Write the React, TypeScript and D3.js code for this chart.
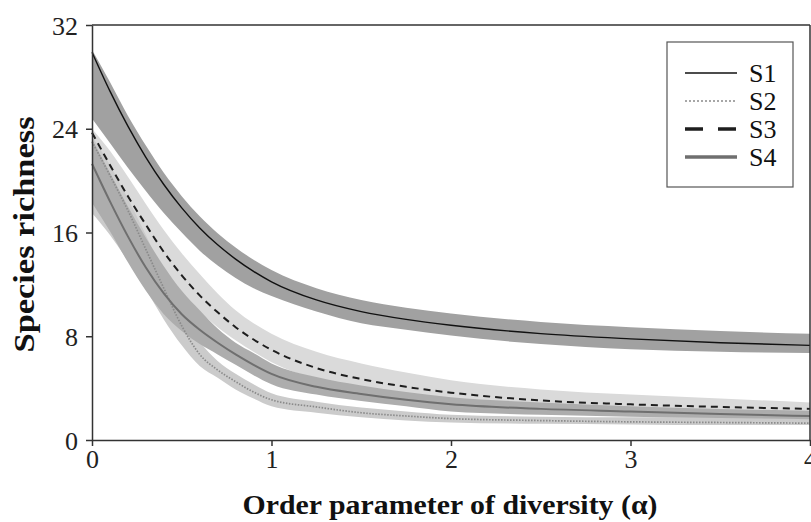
import { useRef, useEffect } from "react";
import * as d3 from "d3";

// order parameter values (x)
const alpha = [0, 0.1, 0.2, 0.3, 0.4, 0.5, 0.6, 0.7, 0.8, 0.9, 1, 1.25, 1.5, 1.75, 2, 2.5, 3, 3.5, 4];

const s1Mean = [29.9, 26.9, 24.2, 21.8, 19.7, 17.9, 16.35, 15.05, 13.95, 13.0, 12.2, 10.8, 9.9, 9.3, 8.85, 8.2, 7.8, 7.5, 7.3];
const s1Hi = [30.1, 27.6, 25.0, 22.7, 20.6, 18.8, 17.25, 15.95, 14.85, 13.9, 13.1, 11.7, 10.8, 10.2, 9.75, 9.1, 8.7, 8.4, 8.2];
const s1Lo = [24.8, 22.9, 21.0, 19.2, 17.5, 16.0, 14.6, 13.45, 12.5, 11.7, 11.1, 9.9, 9.0, 8.5, 8.05, 7.4, 7.0, 6.8, 6.7];

const s2Mean = [23.0, 20.4, 17.7, 14.7, 11.7, 8.8, 6.6, 5.4, 4.5, 3.7, 3.1, 2.55, 2.1, 1.85, 1.65, 1.5, 1.4, 1.35, 1.3];
const s2Hi = [23.4, 21.2, 18.6, 15.8, 12.8, 9.9, 7.6, 6.1, 5.1, 4.3, 3.6, 2.95, 2.5, 2.2, 1.95, 1.8, 1.75, 1.75, 1.75];
const s2Lo = [17.5, 15.8, 13.8, 11.6, 9.3, 7.3, 5.7, 4.8, 3.9, 3.2, 2.6, 2.1, 1.75, 1.5, 1.35, 1.25, 1.2, 1.15, 1.15];

const s3Mean = [23.7, 21.2, 18.8, 16.6, 14.5, 12.7, 11.15, 9.85, 8.7, 7.75, 6.95, 5.55, 4.7, 4.1, 3.65, 3.05, 2.75, 2.55, 2.4];
const s3Hi = [24.0, 22.3, 20.3, 18.2, 16.2, 14.4, 12.8, 11.3, 10.0, 9.0, 8.2, 6.8, 5.9, 5.2, 4.6, 3.9, 3.5, 3.2, 2.9];
const s3Lo = [20.5, 18.7, 16.8, 14.8, 12.9, 11.2, 9.9, 8.7, 7.7, 6.8, 6.0, 4.7, 4.0, 3.4, 3.0, 2.6, 2.35, 2.2, 2.1];

const s4Mean = [21.3, 18.4, 15.7, 13.3, 11.3, 9.7, 8.5, 7.5, 6.6, 5.8, 5.1, 4.1, 3.55, 3.1, 2.75, 2.4, 2.2, 2.0, 1.85];
const s4Hi = [23.2, 20.6, 18.0, 15.6, 13.4, 11.5, 10.0, 8.6, 7.5, 6.7, 5.9, 4.85, 4.2, 3.7, 3.3, 2.9, 2.6, 2.4, 2.25];
const s4Lo = [18.3, 16.1, 13.7, 11.5, 9.7, 8.4, 7.4, 6.6, 5.8, 5.0, 4.3, 3.5, 3.0, 2.6, 2.2, 1.95, 1.8, 1.7, 1.6];

const yTicks = [0, 8, 16, 24, 32];
const xTicks = [0, 1, 2, 3, 4];
const seriesNames = ["S1", "S2", "S3", "S4"];

const FONT = "'Liberation Serif', 'Times New Roman', serif";

// line style per series
const lineStyle: Record<string, { stroke: string; width: number; dash: string | null; legendWidth: number; legendDash: string | null }> = {
  S1: { stroke: "#111", width: 1.4, dash: null, legendWidth: 1.4, legendDash: null },
  S2: { stroke: "#8a8a8a", width: 1.7, dash: "1.5,1.5", legendWidth: 1.7, legendDash: "2,2" },
  S3: { stroke: "#1e1e1e", width: 2, dash: "7,5", legendWidth: 3.5, legendDash: "18,15" },
  S4: { stroke: "#6f6f6f", width: 2, dash: null, legendWidth: 3.5, legendDash: null },
};

function App() {
  const ref = useRef<SVGSVGElement | null>(null);
  const width = 811;
  const height = 522;

  useEffect(() => {
    if (!ref.current) return;
    const svg = d3.select(ref.current).html("");

    const x = d3.scaleLinear().domain([0, 4]).range([92, 810]);
    const y = d3.scaleLinear().domain([0, 32]).range([440, 25]);

    const series = [
      { name: "S1", mean: s1Mean, hi: s1Hi, lo: s1Lo, fill: "#a1a1a1" },
      { name: "S2", mean: s2Mean, hi: s2Hi, lo: s2Lo, fill: "#cbcbcb" },
      { name: "S3", mean: s3Mean, hi: s3Hi, lo: s3Lo, fill: "#dadada" },
      { name: "S4", mean: s4Mean, hi: s4Hi, lo: s4Lo, fill: "#adadad" },
    ];

    const area = d3
      .area<number>()
      .curve(d3.curveMonotoneX)
      .x((_, i) => x(alpha[i]));
    const line = d3
      .line<number>()
      .curve(d3.curveMonotoneX)
      .x((_, i) => x(alpha[i]))
      .y((d) => y(d));

    // bands (drawing order matters for the overlaps)
    const bandOrder = ["S3", "S2", "S4", "S1"];
    bandOrder.forEach((nm) => {
      const s = series.find((d) => d.name === nm)!;
      svg
        .append("path")
        .datum(s.hi)
        .attr("fill", s.fill)
        .attr("d", area.y0((_, i) => y(s.lo[i])).y1((d) => y(d)) as any);
    });

    // lines
    ["S2", "S4", "S3", "S1"].forEach((nm) => {
      const s = series.find((d) => d.name === nm)!;
      const st = lineStyle[nm];
      svg
        .append("path")
        .datum(s.mean)
        .attr("fill", "none")
        .attr("stroke", st.stroke)
        .attr("stroke-width", st.width)
        .attr("stroke-dasharray", st.dash)
        .attr("d", line as any);
    });

    // frame: top and right
    svg.append("line").attr("x1", x(0)).attr("x2", x(4)).attr("y1", y(32)).attr("y2", y(32)).attr("stroke", "#333").attr("stroke-width", 1.5);
    svg.append("line").attr("x1", x(4)).attr("x2", x(4)).attr("y1", y(32)).attr("y2", y(0)).attr("stroke", "#333").attr("stroke-width", 1.5);

    // axes
    const yAxis = svg
      .append("g")
      .attr("transform", `translate(${x(0)},0)`)
      .call(d3.axisLeft(y).tickValues(yTicks).tickFormat(d3.format("d")).tickSize(6).tickSizeOuter(0).tickPadding(8));
    const xAxis = svg
      .append("g")
      .attr("transform", `translate(0,${y(0)})`)
      .call(d3.axisBottom(x).tickValues(xTicks).tickFormat(d3.format("d")).tickSize(6).tickSizeOuter(0).tickPadding(4));
    [yAxis, xAxis].forEach((g) => {
      g.selectAll("path,line").attr("stroke", "#333").attr("stroke-width", 1.5);
      g.selectAll("text").style("font-family", FONT).style("font-size", "26px").attr("fill", "#222");
    });
    yAxis.selectAll("text").attr("dy", "0.35em");

    // axis titles
    svg
      .append("text")
      .attr("x", 450)
      .attr("y", 514)
      .attr("text-anchor", "middle")
      .attr("textLength", 415)
      .attr("lengthAdjust", "spacingAndGlyphs")
      .style("font-family", FONT)
      .style("font-size", "28px")
      .style("font-weight", "bold")
      .attr("fill", "#111")
      .text("Order parameter of diversity (α)");
    svg
      .append("text")
      .attr("transform", `translate(34,${(y(0) + y(32)) / 2 + 2}) rotate(-90)`)
      .attr("text-anchor", "middle")
      .attr("textLength", 236)
      .attr("lengthAdjust", "spacingAndGlyphs")
      .style("font-family", FONT)
      .style("font-size", "29px")
      .style("font-weight", "bold")
      .attr("fill", "#111")
      .text("Species richness");

    // legend
    const lg = svg.append("g").attr("transform", "translate(667,42)");
    lg.append("rect").attr("width", 126).attr("height", 145).attr("fill", "#fff").attr("stroke", "#555").attr("stroke-width", 1.2);
    const item = lg
      .selectAll(".legend")
      .data(seriesNames)
      .enter()
      .append("g")
      .attr("class", "legend")
      .attr("transform", (d, i) => `translate(0,${31 + i * 28})`);
    item
      .append("line")
      .attr("x1", 18)
      .attr("x2", 70)
      .attr("stroke", (d) => lineStyle[d].stroke)
      .attr("stroke-width", (d) => lineStyle[d].legendWidth)
      .attr("stroke-dasharray", (d) => lineStyle[d].legendDash);
    item
      .append("text")
      .attr("x", 82)
      .attr("dy", "0.35em")
      .style("font-family", FONT)
      .style("font-size", "26px")
      .attr("fill", "#111")
      .text((d) => d);
  }, []);

  return (
    <svg
      ref={ref}
      width={width}
      height={height}
      style={{ position: "absolute", left: 0, top: 0, background: "#fff" }}
    ></svg>
  );
}

export default App;
